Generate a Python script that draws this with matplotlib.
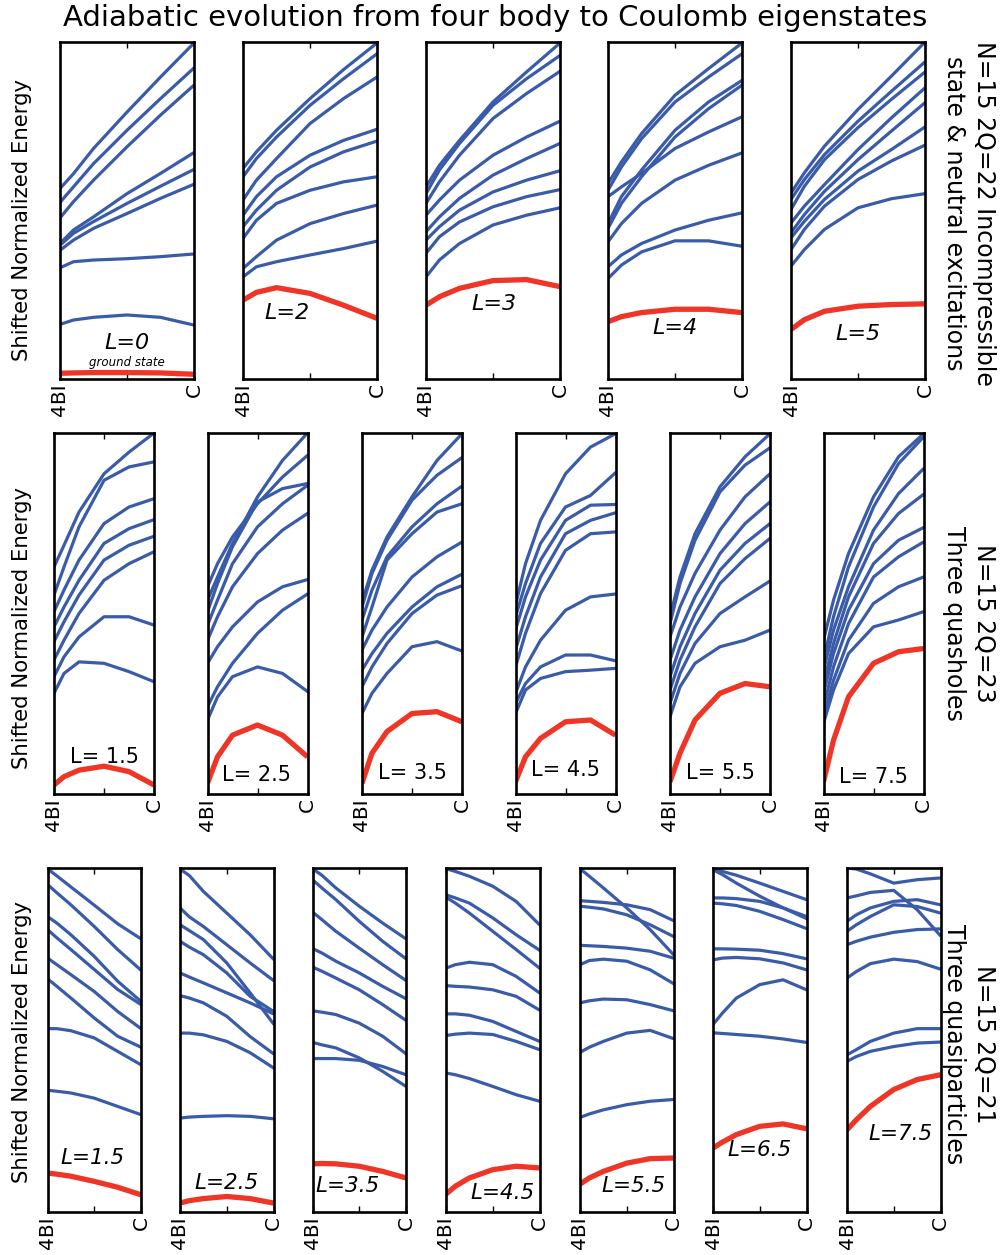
import matplotlib
matplotlib.use("Agg")
import matplotlib.pyplot as plt

# Interpolation parameter between the four-body (4BI) and Coulomb (C) Hamiltonians
path = [0.0, 0.1, 0.25, 0.5, 0.75, 1.0]
tick_labels = ["4BI", "", "C"]

# ---- N=15, 2Q=22: incompressible state and neutral excitations ----
inc_L0 = [
    [56.5, 60.9, 68.4, 79.2, 89.6, 99.7],
    [52.4, 57.0, 63.9, 73.8, 83.2, 92.3],
    [47.8, 52.6, 59.0, 68.9, 78.3, 87.2],
    [40.2, 44.2, 48.1, 55.0, 61.0, 67.2],
    [39.7, 43.2, 46.7, 52.1, 57.2, 62.2],
    [38.2, 41.2, 44.7, 49.1, 53.6, 57.8],
    [33.0, 34.8, 35.3, 35.7, 36.3, 37.1],
    [16.2, 17.5, 18.3, 19.0, 18.3, 16.0],
]
inc_L0_low = [1.7, 1.8, 1.9, 1.9, 1.8, 1.4]

inc_L2 = [
    [62.5, 67.4, 73.8, 83.2, 91.8, 99.7],
    [60.0, 65.4, 71.8, 81.2, 89.1, 96.5],
    [53.1, 59.0, 65.4, 75.8, 83.2, 89.6],
    [48.6, 54.1, 60.0, 66.4, 70.8, 74.1],
    [45.2, 50.1, 56.0, 62.9, 67.4, 70.6],
    [41.7, 47.1, 52.1, 56.0, 58.5, 60.0],
    [32.8, 36.3, 41.2, 46.1, 49.1, 51.6],
    [30.3, 33.3, 34.8, 36.8, 38.7, 40.9],
]
inc_L2_low = [23.4, 25.7, 27.1, 25.4, 21.9, 18.0]

inc_L3 = [
    [57.0, 63.4, 70.8, 82.2, 91.1, 99.7],
    [55.0, 62.0, 69.9, 81.2, 89.1, 96.0],
    [52.1, 58.5, 66.4, 77.3, 84.7, 91.3],
    [48.6, 53.1, 59.0, 66.4, 71.8, 76.5],
    [43.7, 48.1, 53.6, 60.5, 65.4, 69.9],
    [41.2, 45.2, 50.1, 55.5, 59.0, 61.8],
    [37.3, 42.2, 46.6, 51.1, 54.1, 56.2],
    [30.3, 35.3, 40.2, 45.7, 48.6, 50.8],
]
inc_L3_low = [21.9, 24.4, 26.9, 29.2, 29.5, 27.4]

inc_L4 = [
    [58.0, 64.4, 72.8, 84.2, 92.1, 99.7],
    [56.0, 62.9, 71.3, 82.2, 89.6, 96.5],
    [54.1, 57.0, 61.0, 68.4, 73.3, 77.8],
    [46.1, 54.1, 62.0, 73.8, 82.2, 88.6],
    [44.7, 52.1, 60.0, 71.8, 80.2, 87.2],
    [40.7, 46.1, 52.1, 59.0, 63.4, 67.1],
    [33.3, 36.8, 40.2, 44.2, 47.1, 49.3],
    [29.8, 33.8, 37.7, 41.0, 41.0, 39.4],
]
inc_L4_low = [17.0, 18.5, 19.7, 20.7, 20.7, 19.7]

inc_L5 = [
    [55.2, 61.2, 69.1, 80.0, 89.9, 100.0],
    [53.3, 59.2, 66.6, 76.5, 85.4, 94.1],
    [50.3, 57.2, 65.1, 74.6, 83.0, 91.1],
    [46.3, 51.3, 57.7, 68.1, 77.5, 86.4],
    [43.4, 48.8, 55.7, 65.1, 73.6, 82.0],
    [41.9, 46.8, 53.3, 61.7, 68.1, 74.8],
    [38.4, 44.4, 51.3, 59.2, 64.7, 69.4],
    [33.5, 38.4, 44.4, 50.8, 53.5, 55.0],
]
inc_L5_low = [14.7, 17.6, 20.1, 21.6, 22.1, 22.3]

# ---- N=15, 2Q=23: three quasiholes ----
qh_L15 = [
    [62.9, 68.9, 78.1, 88.7, 94.7, 100.0],
    [55.1, 62.9, 74.0, 86.9, 90.6, 92.0],
    [50.5, 56.5, 64.8, 74.9, 79.5, 81.8],
    [46.3, 51.8, 59.2, 69.4, 73.5, 76.0],
    [42.2, 47.7, 55.1, 64.8, 68.9, 71.4],
    [37.1, 42.6, 50.0, 59.2, 63.8, 67.1],
    [32.5, 38.0, 43.5, 49.1, 49.1, 46.8],
    [27.9, 33.4, 36.6, 36.2, 33.9, 31.1],
]
qh_L15_low = [2.5, 4.8, 6.6, 7.7, 6.2, 2.5]

qh_L25 = [
    [53.7, 60.1, 69.4, 82.3, 92.4, 100.0],
    [57.4, 63.8, 71.2, 80.4, 87.8, 93.8],
    [50.5, 58.3, 68.5, 80.9, 84.6, 86.0],
    [46.8, 53.7, 63.8, 74.0, 80.4, 85.5],
    [42.6, 49.1, 57.4, 66.6, 73.1, 77.7],
    [36.2, 40.8, 46.3, 53.2, 57.4, 59.4],
    [24.2, 29.7, 36.2, 44.5, 50.9, 55.4],
    [20.5, 26.9, 32.5, 35.2, 33.4, 28.4],
]
qh_L25_low = [3.0, 10.3, 16.3, 19.1, 16.3, 10.3]

qh_L35 = [
    [53.2, 62.0, 71.2, 82.3, 92.4, 99.8],
    [51.8, 61.1, 70.3, 81.4, 88.3, 93.2],
    [48.2, 56.5, 65.7, 74.0, 80.4, 85.3],
    [43.5, 51.8, 64.8, 72.1, 78.1, 80.4],
    [39.9, 45.4, 51.8, 60.1, 65.7, 69.8],
    [34.3, 38.9, 44.5, 51.8, 57.4, 60.9],
    [29.7, 35.2, 41.7, 50.0, 55.1, 57.7],
    [22.3, 27.9, 33.4, 40.8, 42.2, 39.6],
]
qh_L35_low = [3.0, 11.3, 17.3, 22.3, 22.8, 20.0]

qh_L45 = [
    [52.3, 63.8, 75.8, 88.7, 96.1, 99.8],
    [49.1, 58.3, 69.4, 79.5, 82.7, 89.0],
    [45.4, 54.6, 64.8, 75.8, 80.0, 80.2],
    [39.9, 49.1, 60.1, 72.1, 75.8, 77.9],
    [35.2, 44.5, 55.5, 67.5, 72.1, 72.6],
    [27.9, 35.2, 42.6, 50.9, 54.6, 55.4],
    [25.1, 30.6, 35.2, 38.5, 38.5, 36.9],
    [22.3, 28.8, 32.0, 33.9, 34.3, 34.8],
]
qh_L45_low = [3.4, 10.3, 15.4, 20.0, 20.5, 16.3]

qh_L55 = [
    [49.1, 60.1, 72.1, 85.1, 93.4, 99.8],
    [47.2, 58.3, 70.3, 83.7, 91.1, 95.9],
    [43.5, 51.8, 61.1, 73.1, 82.3, 88.7],
    [37.1, 45.4, 54.6, 66.6, 74.9, 80.9],
    [32.5, 40.8, 50.0, 62.0, 69.4, 74.9],
    [28.8, 37.1, 46.3, 58.3, 65.2, 70.8],
    [25.1, 33.4, 41.7, 50.0, 54.6, 59.0],
    [21.4, 29.7, 36.2, 40.8, 42.6, 45.4],
]
qh_L55_low = [3.4, 11.3, 20.5, 27.9, 30.6, 29.7]

qh_L75 = [
    [42.6, 53.7, 66.6, 82.3, 93.4, 99.8],
    [37.1, 49.1, 62.9, 79.5, 91.5, 98.9],
    [34.3, 45.4, 57.4, 73.1, 83.2, 90.1],
    [30.6, 41.7, 54.6, 69.4, 77.7, 83.0],
    [27.9, 38.9, 50.9, 63.8, 70.3, 73.8],
    [24.2, 35.2, 47.2, 60.1, 65.7, 69.8],
    [21.4, 31.5, 42.6, 52.8, 57.4, 60.1],
    [19.6, 28.8, 38.9, 46.3, 48.2, 50.5],
]
qh_L75_low = [3.4, 14.9, 26.9, 36.2, 39.4, 40.3]

# ---- N=15, 2Q=21: three quasiparticles ----
qp_L15 = [
    [99.8, 97.7, 94.5, 89.2, 83.8, 79.4],
    [95.2, 92.8, 89.3, 83.0, 76.3, 70.3],
    [85.9, 84.0, 80.6, 74.3, 67.1, 61.2],
    [82.1, 79.7, 76.3, 70.5, 64.7, 60.3],
    [73.8, 71.9, 69.0, 64.1, 58.3, 53.3],
    [67.8, 65.6, 62.2, 56.4, 51.1, 47.9],
    [53.3, 53.3, 52.7, 50.6, 46.7, 42.8],
    [35.4, 35.1, 34.6, 33.1, 30.7, 28.3],
]
qp_L15_low = [11.3, 11.0, 10.4, 8.9, 7.2, 5.0]

qp_L25 = [
    [99.7, 97.8, 93.2, 86.9, 80.6, 73.5],
    [88.4, 85.8, 83.0, 77.7, 72.4, 67.3],
    [83.5, 81.8, 79.2, 72.4, 63.7, 54.7],
    [78.7, 77.0, 74.8, 69.5, 62.7, 58.3],
    [69.5, 68.3, 66.6, 63.7, 60.8, 57.6],
    [62.9, 62.2, 60.8, 56.9, 51.0, 46.0],
    [52.0, 52.0, 51.5, 49.6, 46.3, 41.9],
    [27.3, 27.6, 27.8, 28.0, 27.8, 27.1],
]
qp_L25_low = [2.6, 3.3, 3.9, 4.5, 3.9, 2.6]

qp_L35 = [
    [99.8, 97.9, 94.2, 88.9, 84.0, 79.4],
    [96.6, 94.2, 90.8, 84.5, 78.7, 73.6],
    [87.2, 85.0, 81.6, 76.7, 71.9, 67.3],
    [76.6, 75.3, 72.9, 69.5, 65.6, 62.0],
    [71.2, 70.0, 68.0, 64.6, 60.3, 55.7],
    [58.5, 58.1, 57.4, 54.9, 51.1, 46.0],
    [49.3, 48.6, 47.7, 44.8, 40.9, 36.5],
    [44.6, 44.6, 44.6, 44.1, 42.3, 39.9],
]
qp_L35_low = [14.0, 14.1, 14.0, 13.3, 11.8, 9.9]

qp_L45 = [
    [99.8, 99.0, 97.6, 94.7, 90.3, 83.5],
    [92.2, 91.3, 89.8, 85.5, 80.6, 76.1],
    [91.5, 89.8, 86.9, 81.6, 76.3, 70.9],
    [70.9, 71.9, 72.6, 71.9, 68.5, 63.7],
    [65.8, 65.6, 65.4, 64.6, 62.7, 58.7],
    [57.6, 57.6, 57.2, 55.4, 52.5, 49.6],
    [51.3, 51.7, 52.0, 51.6, 49.6, 47.2],
    [40.4, 39.9, 38.8, 36.5, 34.1, 32.2],
]
qp_L45_low = [5.2, 7.5, 9.9, 12.3, 13.3, 12.8]

qp_L55 = [
    [99.8, 97.6, 94.2, 88.4, 82.1, 74.8],
    [90.5, 90.3, 90.0, 89.3, 87.9, 84.7],
    [88.9, 88.6, 88.1, 86.4, 83.5, 80.1],
    [77.5, 77.4, 77.2, 76.7, 75.8, 73.8],
    [71.9, 73.1, 73.5, 72.9, 70.4, 66.4],
    [60.8, 61.4, 61.9, 61.7, 60.3, 58.5],
    [46.4, 47.9, 49.6, 52.0, 52.8, 50.4],
    [27.5, 28.5, 29.7, 31.2, 32.2, 32.7],
]
qp_L55_low = [8.1, 9.9, 11.8, 14.2, 15.5, 15.7]

qp_L65 = [
    [99.8, 99.0, 97.9, 95.6, 93.2, 90.8],
    [99.5, 98.1, 95.6, 91.8, 88.4, 85.3],
    [91.3, 91.3, 91.1, 90.3, 88.4, 85.9],
    [89.8, 89.6, 89.1, 87.4, 85.0, 82.4],
    [76.5, 76.5, 76.4, 76.1, 75.1, 73.6],
    [73.3, 73.8, 74.0, 73.6, 72.4, 70.4],
    [54.5, 57.8, 62.2, 66.1, 67.5, 64.6],
    [52.1, 51.9, 51.6, 51.1, 50.3, 49.3],
]
qp_L65_low = [18.6, 20.3, 22.5, 24.9, 25.6, 24.2]

qp_L75 = [
    [100.0, 99.7, 98.3, 95.6, 96.6, 97.1],
    [91.3, 91.9, 92.9, 93.5, 87.9, 80.3],
    [84.5, 86.4, 88.4, 90.3, 90.8, 89.3],
    [81.6, 83.5, 85.9, 89.3, 88.8, 86.9],
    [77.7, 78.7, 79.9, 81.3, 82.1, 82.3],
    [68.0, 69.9, 72.2, 73.5, 72.8, 70.6],
    [45.7, 47.2, 49.6, 52.0, 53.3, 53.3],
    [43.8, 45.2, 46.7, 48.1, 49.1, 49.4],
]
qp_L75_low = [23.9, 26.8, 30.7, 35.6, 38.5, 39.9]

row1_labels = ["L=0", "L=2", "L=3", "L=4", "L=5"]
row2_labels = ["L= 1.5", "L= 2.5", "L= 3.5", "L= 4.5", "L= 5.5", "L= 7.5"]
row3_labels = ["L=1.5", "L=2.5", "L=3.5", "L=4.5", "L=5.5", "L=6.5", "L=7.5"]

title = "Adiabatic evolution from four body to Coulomb eigenstates"
ylabel = "Shifted Normalized Energy"
row_notes = [
    "N=15 2Q=22 Incompressible\nstate & neutral excitations",
    "N=15 2Q=23\nThree quasholes",
    "N=15 2Q=21\nThree quasiparticles",
]

# ---------------- layout (pixels of a 1001 x 1255 canvas) ----------------
W, H = 1001, 1255
BLUE = "#3a5ca8"
RED = "#ee3526"

rows = [
    dict(levels=[inc_L0, inc_L2, inc_L3, inc_L4, inc_L5],
         lows=[inc_L0_low, inc_L2_low, inc_L3_low, inc_L4_low, inc_L5_low],
         labels=row1_labels, italic=True, fs=16,
         lefts=[60, 243, 426, 608, 791], width=134, top=42, bottom=379,
         label_pos=[(0.5, 10.6), (0.33, 19.5), (0.51, 22.4), (0.5, 15.2), (0.5, 13.4)],
         ylab_y=220, note_y=213),
    dict(levels=[qh_L15, qh_L25, qh_L35, qh_L45, qh_L55, qh_L75],
         lows=[qh_L15_low, qh_L25_low, qh_L35_low, qh_L45_low, qh_L55_low, qh_L75_low],
         labels=row2_labels, italic=False, fs=15,
         lefts=[54, 207.5, 362, 515.5, 670, 823.5], width=100, top=433, bottom=794,
         label_pos=[(0.5, 10.3), (0.49, 5.3), (0.5, 5.7), (0.5, 6.6), (0.5, 5.7), (0.5, 4.8)],
         ylab_y=628, note_y=623),
    dict(levels=[qp_L15, qp_L25, qp_L35, qp_L45, qp_L55, qp_L65, qp_L75],
         lows=[qp_L15_low, qp_L25_low, qp_L35_low, qp_L45_low, qp_L55_low,
               qp_L65_low, qp_L75_low],
         labels=row3_labels, italic=True, fs=15.5,
         lefts=[47.5, 180, 312.5, 446, 580, 713, 847], width=93.5, top=868, bottom=1212,
         label_pos=[(0.48, 15.7), (0.5, 8.4), (0.37, 7.5), (0.6, 5.5), (0.57, 7.5),
                    (0.5, 18.1), (0.57, 22.7)],
         ylab_y=1042, note_y=1044),
]

fig = plt.figure(figsize=(W / 100, H / 100), dpi=100)
fig.patch.set_facecolor("white")

for row in rows:
    h = row["bottom"] - row["top"]
    for i, left in enumerate(row["lefts"]):
        ax = fig.add_axes([left / W, (H - row["bottom"]) / H, row["width"] / W, h / H])
        for lev in row["levels"][i]:
            ax.plot(path, lev, color=BLUE, lw=2.3, solid_capstyle="round",
                    solid_joinstyle="round")
        ax.plot(path, row["lows"][i], color=RED, lw=3.8, solid_capstyle="butt",
                solid_joinstyle="round")
        lx, ly = row["label_pos"][i]
        ax.text(lx, ly, row["labels"][i], ha="center", va="center",
                fontsize=row["fs"], style="italic" if row["italic"] else "normal")
        if row["labels"][i] == "L=0":
            ax.text(0.5, 4.9, "ground state", ha="center", va="center",
                    fontsize=8.5, style="italic")
        ax.set_xlim(0, 1)
        ax.set_ylim(0, 100)
        ax.set_yticks([])
        ax.set_xticks([0, 0.5, 1])
        ax.set_xticklabels(tick_labels, rotation=90, fontsize=14.5)
        ax.tick_params(axis="x", direction="in", length=4, width=1, top=True,
                       pad=3)
        for sp in ax.spines.values():
            sp.set_linewidth(1.9)
            sp.set_color("black")
    fig.text(22 / W, 1 - row["ylab_y"] / H, ylabel, rotation=90, ha="center",
             va="center", fontsize=15.3)
    fig.text(969 / W, 1 - row["note_y"] / H, row_notes[rows.index(row)],
             rotation=270, ha="center", va="center", multialignment="center",
             fontsize=17, linespacing=1.3)

fig.text(495 / W, 1 - 18 / H, title, ha="center", va="center", fontsize=21)

fig.savefig("out.png", dpi=100)
